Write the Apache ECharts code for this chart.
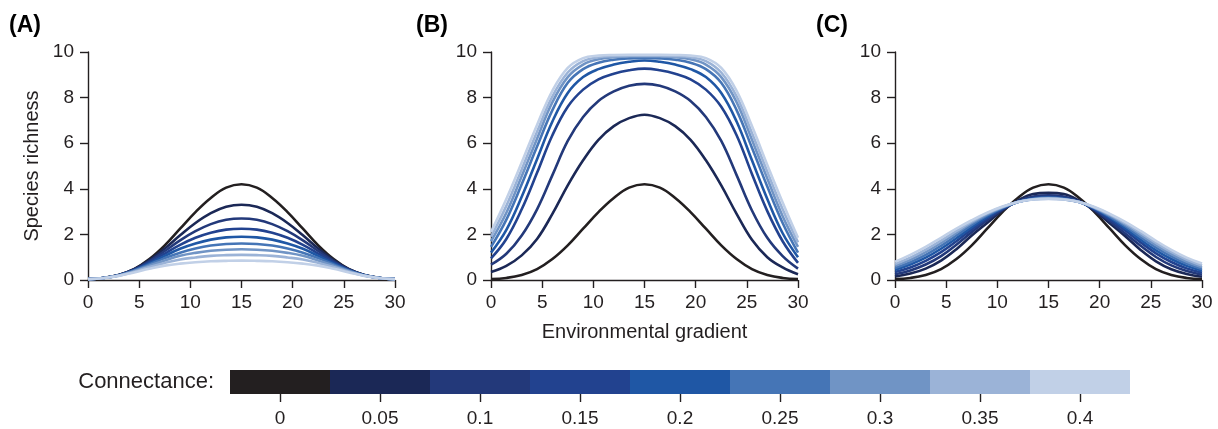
<!DOCTYPE html>
<html>
<head>
<meta charset="utf-8">
<script src="https://cdn.jsdelivr.net/npm/echarts/dist/echarts.min.js"></script>
<style>
  html, body { margin: 0; padding: 0; background: #fff; }
  #chart { width: 1218px; height: 429px; }
</style>
</head>
<body>
<div id="chart"></div>
<script>
// gradient positions where the curves were read
const xs = [0, 1.5, 3, 4.5, 6, 7.5, 9, 10.5, 12, 13.5, 15, 16.5, 18, 19.5, 21, 22.5, 24, 25.5, 27, 28.5, 30];

const connectance = ['0', '0.05', '0.1', '0.15', '0.2', '0.25', '0.3', '0.35', '0.4'];
const colours = ['#231f20', '#1b2856', '#23397a', '#22428f', '#1f57a5', '#4575b6', '#7094c5', '#9bb3d7', '#c1d0e7'];

// connectance 0 is the same curve in all three panels
const noLinks = [0.04, 0.09, 0.22, 0.48, 0.92, 1.52, 2.25, 2.98, 3.6, 4.05, 4.2, 4.05, 3.6, 2.98, 2.25, 1.52, 0.92, 0.48, 0.22, 0.09, 0.04];

// (A) one row per connectance value
const panelA = [
  noLinks,
  [0.04, 0.09, 0.22, 0.47, 0.87, 1.38, 1.96, 2.5, 2.93, 3.21, 3.3, 3.21, 2.93, 2.5, 1.96, 1.38, 0.87, 0.47, 0.22, 0.09, 0.04],
  [0.04, 0.09, 0.21, 0.45, 0.82, 1.27, 1.74, 2.14, 2.45, 2.64, 2.7, 2.64, 2.45, 2.14, 1.74, 1.27, 0.82, 0.45, 0.21, 0.09, 0.04],
  [0.04, 0.09, 0.21, 0.44, 0.77, 1.16, 1.54, 1.85, 2.07, 2.21, 2.25, 2.21, 2.07, 1.85, 1.54, 1.16, 0.77, 0.44, 0.21, 0.09, 0.04],
  [0.04, 0.09, 0.21, 0.42, 0.73, 1.06, 1.37, 1.6, 1.77, 1.87, 1.9, 1.87, 1.77, 1.6, 1.37, 1.06, 0.73, 0.42, 0.21, 0.09, 0.04],
  [0.04, 0.09, 0.2, 0.41, 0.68, 0.96, 1.2, 1.38, 1.51, 1.58, 1.6, 1.58, 1.51, 1.38, 1.2, 0.96, 0.68, 0.41, 0.2, 0.09, 0.04],
  [0.04, 0.09, 0.2, 0.39, 0.63, 0.86, 1.06, 1.19, 1.28, 1.33, 1.35, 1.33, 1.28, 1.19, 1.06, 0.86, 0.63, 0.39, 0.2, 0.09, 0.04],
  [0.04, 0.09, 0.19, 0.36, 0.57, 0.75, 0.9, 0.99, 1.06, 1.09, 1.1, 1.09, 1.06, 0.99, 0.9, 0.75, 0.57, 0.36, 0.19, 0.09, 0.04],
  [0.04, 0.08, 0.18, 0.33, 0.49, 0.63, 0.72, 0.78, 0.82, 0.84, 0.85, 0.84, 0.82, 0.78, 0.72, 0.63, 0.49, 0.33, 0.18, 0.08, 0.04]
];

// (B)
const panelB = [
  noLinks,
  [0.35, 0.62, 1.08, 1.8, 2.9, 4.15, 5.25, 6.15, 6.75, 7.1, 7.25, 7.1, 6.75, 6.15, 5.25, 4.15, 2.9, 1.76, 1.0, 0.55, 0.25],
  [0.67, 1.15, 1.95, 3.1, 4.6, 6.1, 7.15, 7.85, 8.27, 8.52, 8.6, 8.52, 8.27, 7.85, 7.15, 6.1, 4.6, 3.05, 1.85, 1.05, 0.5],
  [0.95, 1.8, 3.1, 4.7, 6.35, 7.6, 8.35, 8.8, 9.05, 9.2, 9.27, 9.2, 9.05, 8.8, 8.35, 7.6, 6.35, 4.65, 3.02, 1.7, 0.75],
  [1.2, 2.2, 3.65, 5.3, 6.95, 8.2, 8.9, 9.25, 9.45, 9.57, 9.63, 9.57, 9.45, 9.25, 8.9, 8.2, 6.95, 5.25, 3.55, 2.05, 1.0],
  [1.45, 2.65, 4.2, 5.85, 7.45, 8.65, 9.25, 9.53, 9.66, 9.72, 9.74, 9.72, 9.66, 9.53, 9.25, 8.65, 7.45, 5.8, 4.1, 2.5, 1.2],
  [1.7, 2.95, 4.55, 6.2, 7.8, 8.9, 9.45, 9.68, 9.77, 9.8, 9.8, 9.8, 9.77, 9.68, 9.45, 8.9, 7.8, 6.15, 4.45, 2.8, 1.45],
  [1.9, 3.25, 4.85, 6.5, 8.05, 9.1, 9.6, 9.77, 9.82, 9.84, 9.84, 9.84, 9.82, 9.77, 9.6, 9.1, 8.05, 6.45, 4.75, 3.1, 1.65],
  [2.1, 3.55, 5.15, 6.8, 8.3, 9.3, 9.73, 9.84, 9.87, 9.88, 9.88, 9.88, 9.87, 9.84, 9.73, 9.3, 8.3, 6.75, 5.05, 3.4, 1.85]
];

// (C)
const panelC = [
  noLinks,
  [0.15, 0.28, 0.5, 0.85, 1.35, 1.95, 2.5, 3.05, 3.48, 3.77, 3.82, 3.77, 3.48, 3.03, 2.48, 1.92, 1.32, 0.82, 0.47, 0.26, 0.14],
  [0.25, 0.42, 0.68, 1.05, 1.55, 2.1, 2.62, 3.1, 3.45, 3.66, 3.72, 3.66, 3.45, 3.08, 2.58, 2.04, 1.5, 1.01, 0.64, 0.39, 0.23],
  [0.35, 0.55, 0.84, 1.22, 1.7, 2.22, 2.7, 3.12, 3.43, 3.6, 3.65, 3.6, 3.43, 3.1, 2.66, 2.17, 1.65, 1.17, 0.79, 0.51, 0.32],
  [0.45, 0.68, 0.98, 1.37, 1.83, 2.32, 2.77, 3.15, 3.42, 3.57, 3.62, 3.57, 3.42, 3.13, 2.73, 2.27, 1.77, 1.3, 0.92, 0.62, 0.41],
  [0.53, 0.78, 1.1, 1.5, 1.95, 2.42, 2.83, 3.17, 3.42, 3.55, 3.6, 3.55, 3.42, 3.15, 2.78, 2.36, 1.88, 1.42, 1.04, 0.72, 0.48],
  [0.62, 0.88, 1.22, 1.62, 2.06, 2.5, 2.88, 3.19, 3.42, 3.54, 3.58, 3.54, 3.42, 3.17, 2.83, 2.43, 1.98, 1.53, 1.14, 0.81, 0.56],
  [0.7, 0.98, 1.33, 1.73, 2.15, 2.56, 2.92, 3.2, 3.42, 3.54, 3.57, 3.54, 3.42, 3.18, 2.87, 2.49, 2.07, 1.63, 1.23, 0.9, 0.64],
  [0.8, 1.1, 1.45, 1.85, 2.25, 2.62, 2.95, 3.22, 3.42, 3.53, 3.56, 3.53, 3.42, 3.2, 2.9, 2.55, 2.15, 1.72, 1.32, 0.98, 0.72]
];

const xTicks = [0, 30, 5];   // min, max, step
const yTicks = [0, 10, 2];

const ink = '#231f20';
const font = "'Liberation Sans', Arial, sans-serif";

const chart = echarts.init(document.getElementById('chart'));

const panelLeft = [88, 491, 895];
const grids = panelLeft.map((l) => ({ left: l, top: 52, width: 307, height: 228 }));
grids.push({ left: 230, top: 370, width: 900, height: 24 }); // colour key

const axisCommon = {
  axisLine: { lineStyle: { color: ink, width: 1.4 } },
  axisTick: { length: 8, lineStyle: { color: ink, width: 1.4 } },
  splitLine: { show: false },
  axisLabel: { color: ink, fontSize: 19, fontFamily: font }
};

const xAxes = [0, 1, 2].map((i) => ({
  ...axisCommon,
  type: 'value', gridIndex: i,
  min: xTicks[0], max: xTicks[1], interval: xTicks[2],
  axisLabel: { ...axisCommon.axisLabel, margin: 13 },
  name: i === 1 ? 'Environmental gradient' : '',
  nameLocation: 'middle', nameGap: 42,
  nameTextStyle: { color: ink, fontSize: 20, fontFamily: font }
}));
xAxes.push({
  type: 'category', gridIndex: 3, data: connectance,
  axisLine: { show: false },
  axisTick: { show: true, alignWithLabel: true, length: 8, lineStyle: { color: ink, width: 1.4 } },
  axisLabel: { color: ink, fontSize: 19, fontFamily: font, margin: 15 }
});

const yAxes = [0, 1, 2].map((i) => ({
  ...axisCommon,
  type: 'value', gridIndex: i,
  min: yTicks[0], max: yTicks[1], interval: yTicks[2],
  axisLabel: { ...axisCommon.axisLabel, margin: 14 },
  name: i === 0 ? 'Species richness' : '',
  nameLocation: 'middle', nameGap: 46,
  nameTextStyle: { color: ink, fontSize: 20, fontFamily: font }
}));
yAxes.push({ type: 'value', gridIndex: 3, min: 0, max: 1, show: false });

const series = [];
[panelA, panelB, panelC].forEach((panel, p) => {
  panel.forEach((vals, k) => {
    series.push({
      type: 'line',
      name: connectance[k],
      xAxisIndex: p, yAxisIndex: p,
      data: xs.map((x, j) => [x, vals[j]]),
      smooth: 0.4,
      showSymbol: false,
      silent: true,
      lineStyle: { color: colours[k], width: 2.6 },
      z: 2 + k
    });
  });
});

series.push({
  type: 'bar',
  xAxisIndex: 3, yAxisIndex: 3,
  barWidth: '100%',
  silent: true,
  data: colours.map((c) => ({ value: 1, itemStyle: { color: c } }))
});

const panelTitles = ['(A)', '(B)', '(C)'];
const titleLeft = [4, 411, 811];

chart.setOption({
  animation: false,
  backgroundColor: '#fff',
  title: panelTitles.map((t, i) => ({
    text: t, left: titleLeft[i], top: 9,
    textStyle: { color: '#000', fontSize: 23, fontWeight: 'bold', fontFamily: font }
  })),
  graphic: [{
    type: 'text', x: 214, y: 382,
    style: { text: 'Connectance:', fill: ink, fontSize: 22, fontFamily: font, align: 'right', verticalAlign: 'middle' }
  }],
  grid: grids,
  xAxis: xAxes,
  yAxis: yAxes,
  series: series
});

window.onresize = function () {
  chart.resize();
};
</script>
</body>
</html>
